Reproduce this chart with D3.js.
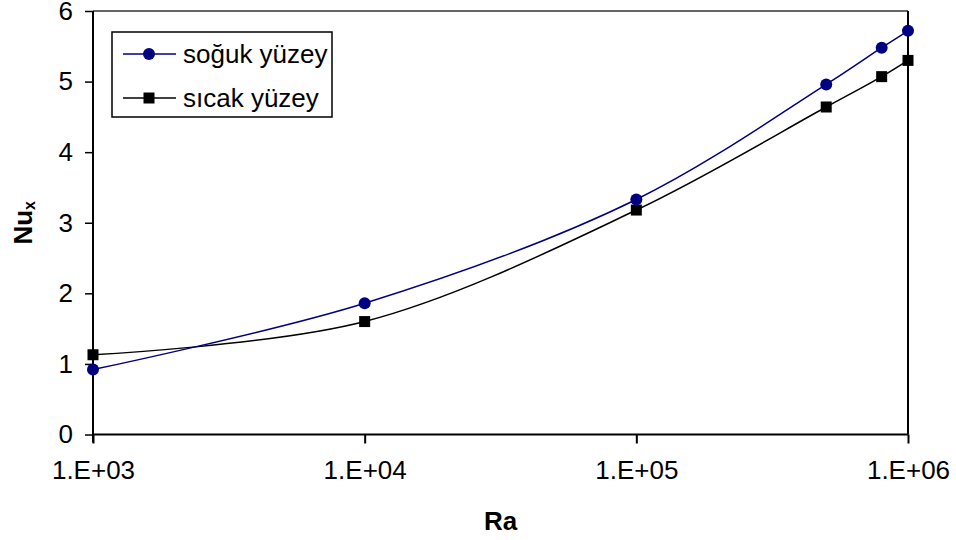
<!DOCTYPE html>
<html>
<head>
<meta charset="utf-8">
<script src="https://cdn.jsdelivr.net/npm/d3@7"></script>
<style>
  html, body { margin: 0; padding: 0; background: #fff; }
  svg { display: block; font-family: "Liberation Sans", Arial, sans-serif; }
</style>
</head>
<body>
<svg id="chart" width="956" height="540"></svg>
<script>
// ---- data ----
const raValues = [1e3, 1e4, 1e5, 5e5, 8e5, 1e6];
const cold = [0.92, 1.86, 3.33, 4.96, 5.48, 5.72];   // soğuk yüzey
const hot  = [1.13, 1.60, 3.18, 4.64, 5.07, 5.30];   // sıcak yüzey
const seriesNames = ["soğuk yüzey", "sıcak yüzey"];
const xTicks = [1e3, 1e4, 1e5, 1e6];
const xTickLabels = ["1.E+03", "1.E+04", "1.E+05", "1.E+06"];
const yTicks = [0, 1, 2, 3, 4, 5, 6];

// ---- layout ----
const svg = d3.select("#chart");
const pL = 93, pR = 908, pT = 11, pB = 434.5;
const FS = 26;

const x = d3.scaleLog().domain([1e3, 1e6]).range([pL, pR]);
const y = d3.scaleLinear().domain([0, 6]).range([pB, pT]);

// plot border (top / right)
svg.append("line").attr("x1", pL).attr("x2", pR).attr("y1", pT).attr("y2", pT)
  .attr("stroke", "#333").attr("stroke-width", 1.5);
svg.append("line").attr("x1", pR).attr("x2", pR).attr("y1", pT).attr("y2", pB)
  .attr("stroke", "#000").attr("stroke-width", 2);

// y axis
const yAxis = d3.axisLeft(y).tickValues(yTicks).tickSize(8).tickPadding(12).tickFormat(d3.format("d"));
const gy = svg.append("g").attr("transform", `translate(${pL},0)`).call(yAxis);
gy.select(".domain").remove();
gy.append("line").attr("x1", 0).attr("x2", 0).attr("y1", pT).attr("y2", pB + 8)
  .attr("stroke", "#000").attr("stroke-width", 2);
gy.selectAll(".tick line").attr("stroke", "#000").attr("stroke-width", 1.5);
gy.selectAll(".tick text").attr("font-size", FS).attr("fill", "#000")
  .attr("font-family", "Liberation Sans, Arial, sans-serif");

// x axis
const gx = svg.append("g").attr("transform", `translate(0,${pB})`)
  .call(d3.axisBottom(x).tickValues(xTicks).tickSize(9).tickPadding(17)
    .tickFormat((d, i) => xTickLabels[i]));
gx.select(".domain").remove();
gx.append("line").attr("x1", pL).attr("x2", pR).attr("y1", 0).attr("y2", 0)
  .attr("stroke", "#000").attr("stroke-width", 2);
gx.selectAll(".tick line").attr("stroke", "#000").attr("stroke-width", 2);
gx.selectAll(".tick text").attr("font-size", FS).attr("fill", "#000")
  .attr("font-family", "Liberation Sans, Arial, sans-serif");

// axis titles
svg.append("text").attr("x", (pL + pR) / 2).attr("y", 530)
  .attr("text-anchor", "middle").attr("font-size", FS).attr("font-weight", "bold").text("Ra");
const yt = svg.append("text")
  .attr("transform", `translate(32,${(pT + pB) / 2}) rotate(-90)`)
  .attr("text-anchor", "middle").attr("font-size", FS).attr("font-weight", "bold");
yt.append("tspan").text("Nu");
yt.append("tspan").attr("font-size", 16).attr("dy", 3).text("x");

// series
const line = d3.line().x(d => x(d[0])).y(d => y(d[1])).curve(d3.curveCatmullRom.alpha(0.5));
const coldPts = raValues.map((r, i) => [r, cold[i]]);
const hotPts = raValues.map((r, i) => [r, hot[i]]);

svg.append("path").datum(hotPts).attr("d", line).attr("fill", "none")
  .attr("stroke", "#000").attr("stroke-width", 1.5);
svg.append("path").datum(coldPts).attr("d", line).attr("fill", "none")
  .attr("stroke", "#000080").attr("stroke-width", 1.5);

svg.append("g").selectAll("rect").data(hotPts).join("rect")
  .attr("x", d => x(d[0]) - 5.5).attr("y", d => y(d[1]) - 5.5)
  .attr("width", 11).attr("height", 11).attr("fill", "#000");
svg.append("g").selectAll("circle").data(coldPts).join("circle")
  .attr("cx", d => x(d[0])).attr("cy", d => y(d[1])).attr("r", 6)
  .attr("fill", "#000080");

// legend
const lg = svg.append("g");
lg.append("rect").attr("x", 112).attr("y", 32).attr("width", 220).attr("height", 85)
  .attr("fill", "#fff").attr("stroke", "#000").attr("stroke-width", 1.5);
const rows = [54, 98];
lg.append("line").attr("x1", 123).attr("x2", 176).attr("y1", rows[0]).attr("y2", rows[0])
  .attr("stroke", "#000080").attr("stroke-width", 1.5);
lg.append("circle").attr("cx", 149).attr("cy", rows[0]).attr("r", 6).attr("fill", "#000080");
lg.append("line").attr("x1", 123).attr("x2", 176).attr("y1", rows[1]).attr("y2", rows[1])
  .attr("stroke", "#000").attr("stroke-width", 1.5);
lg.append("rect").attr("x", 143.5).attr("y", rows[1] - 5.5).attr("width", 11).attr("height", 11).attr("fill", "#000");
seriesNames.forEach((n, i) => {
  lg.append("text").attr("x", 183).attr("y", rows[i] + 9).attr("font-size", FS)
    .attr("fill", "#000").text(n);
});
</script>
</body>
</html>
